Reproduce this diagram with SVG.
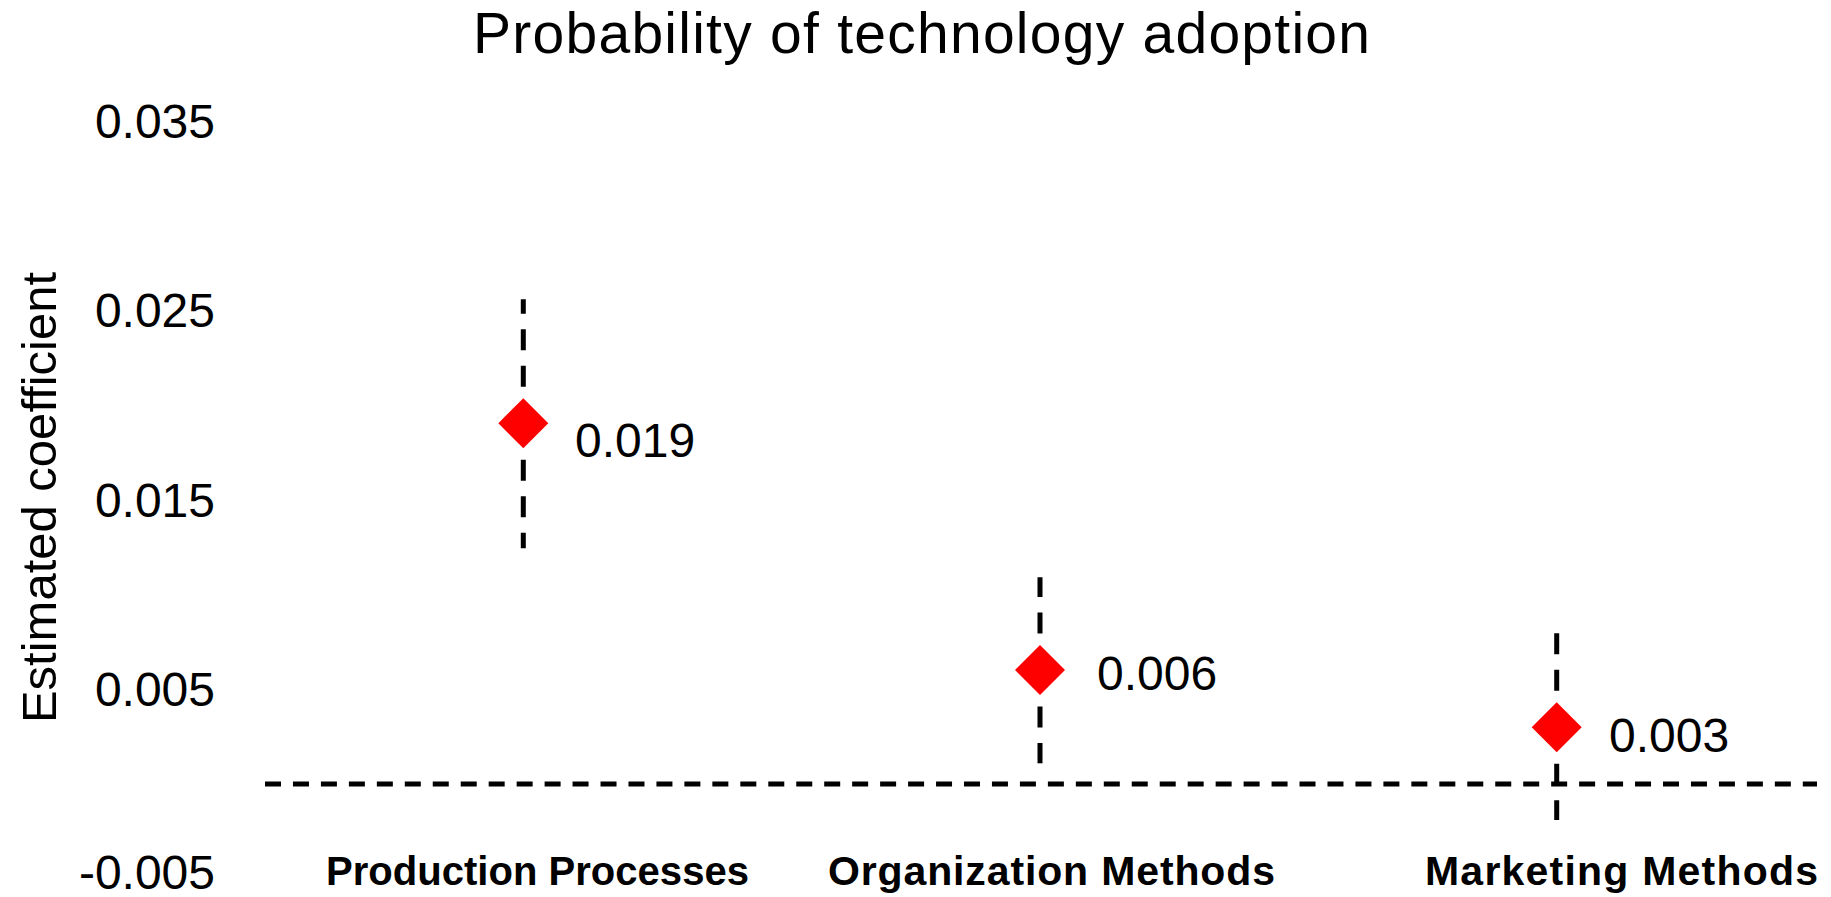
<svg xmlns="http://www.w3.org/2000/svg" width="1831" height="897" viewBox="0 0 1831 897">
<style>
  .title { font-family: "Liberation Sans", Arial, sans-serif; font-size: 57px; fill: #000; }
  .tick { font-family: "Liberation Sans", Arial, sans-serif; font-size: 48px; fill: #000; text-anchor: end; }
  .val { font-family: "Liberation Sans", Arial, sans-serif; font-size: 48px; fill: #000; }
  .cat { font-family: "Liberation Sans", Arial, sans-serif; font-size: 41px; font-weight: bold; fill: #000; }
  .axis { font-family: "Liberation Sans", Arial, sans-serif; font-size: 49px; fill: #000; text-anchor: middle; }
  .err { stroke: #000; stroke-width: 5; fill: none; stroke-dasharray: 21 15.5; }
  .zero { stroke: #000; stroke-width: 5; fill: none; stroke-dasharray: 16 11.96; }
  .pt { fill: #FF0000; }
</style>
<rect x="0" y="0" width="1831" height="897" fill="#FFFFFF"/>
<text id="title" class="title" x="473" y="53" textLength="897" lengthAdjust="spacing">Probability of technology adoption</text>
<g id="y-axis">
  <text class="axis" transform="translate(56,497.5) rotate(-90)">Estimated coefficient</text>
  <text class="tick" x="215" y="137.5">0.035</text>
  <text class="tick" x="215" y="327">0.025</text>
  <text class="tick" x="215" y="516.5">0.015</text>
  <text class="tick" x="215" y="706">0.005</text>
  <text class="tick" x="215" y="889">-0.005</text>
</g>
<g id="connectors">
  <line class="zero" x1="265" y1="784" x2="1817" y2="784"/>
  <line class="err" x1="523.3" y1="423.3" x2="523.3" y2="299.3"/>
  <line class="err" x1="523.3" y1="423.3" x2="523.3" y2="548.3"/>
  <line class="err" x1="1040" y1="670" x2="1040" y2="577.3"/>
  <line class="err" x1="1040" y1="670" x2="1040" y2="763.3"/>
  <line class="err" x1="1556.7" y1="727.3" x2="1556.7" y2="633.3"/>
  <line class="err" x1="1556.7" y1="727.3" x2="1556.7" y2="820"/>
</g>
<g id="production">
  <polygon class="pt" points="523.3,398.3 548.3,423.3 523.3,448.3 498.3,423.3"/>
  <text class="val" x="575" y="457">0.019</text>
  <text class="cat" x="326" y="885" textLength="423" lengthAdjust="spacingAndGlyphs">Production Processes</text>
</g>
<g id="organization">
  <polygon class="pt" points="1040,645 1065,670 1040,695 1015,670"/>
  <text class="val" x="1097" y="690">0.006</text>
  <text class="cat" x="828" y="885" textLength="447" lengthAdjust="spacing">Organization Methods</text>
</g>
<g id="marketing">
  <polygon class="pt" points="1556.7,702.3 1581.7,727.3 1556.7,752.3 1531.7,727.3"/>
  <text class="val" x="1609" y="752">0.003</text>
  <text class="cat" x="1425" y="885" textLength="393" lengthAdjust="spacing">Marketing Methods</text>
</g>
</svg>
